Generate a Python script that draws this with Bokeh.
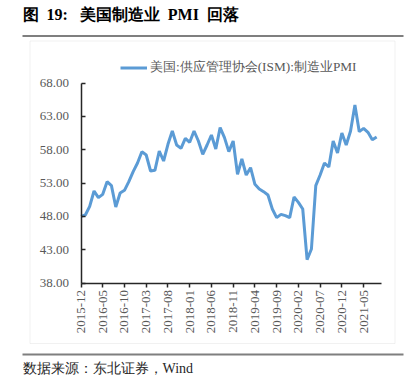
from bokeh.plotting import figure
from bokeh.models import (Range1d, FixedTicker, Label, BoxAnnotation, Legend, LegendItem,
                          ColumnDataSource)
from bokeh.embed import file_html
from bokeh.resources import INLINE
import math

# ---- data ----
months = [
    "2015-12",
    "2016-01", "2016-02", "2016-03", "2016-04", "2016-05", "2016-06",
    "2016-07", "2016-08", "2016-09", "2016-10", "2016-11", "2016-12",
    "2017-01", "2017-02", "2017-03", "2017-04", "2017-05", "2017-06",
    "2017-07", "2017-08", "2017-09", "2017-10", "2017-11", "2017-12",
    "2018-01", "2018-02", "2018-03", "2018-04", "2018-05", "2018-06",
    "2018-07", "2018-08", "2018-09", "2018-10", "2018-11", "2018-12",
    "2019-01", "2019-02", "2019-03", "2019-04", "2019-05", "2019-06",
    "2019-07", "2019-08", "2019-09", "2019-10", "2019-11", "2019-12",
    "2020-01", "2020-02", "2020-03", "2020-04", "2020-05", "2020-06",
    "2020-07", "2020-08", "2020-09", "2020-10", "2020-11", "2020-12",
    "2021-01", "2021-02", "2021-03", "2021-04", "2021-05", "2021-06",
    "2021-07", "2021-08",
]
pmi = [
    48.0,
    48.2, 49.5, 51.8, 50.8, 51.3, 53.2,
    52.6, 49.4, 51.5, 51.9, 53.2, 54.7,
    56.0, 57.7, 57.2, 54.8, 54.9, 57.8,
    56.3, 58.8, 60.8, 58.7, 58.2, 59.7,
    59.1, 60.8, 59.3, 57.3, 58.7, 60.2,
    58.1, 61.3, 59.8, 57.7, 59.3, 54.3,
    56.6, 54.2, 55.3, 52.8, 52.1, 51.7,
    51.2, 49.1, 47.8, 48.3, 48.1, 47.8,
    50.9, 50.1, 49.1, 41.5, 43.1, 52.6,
    54.2, 56.0, 55.4, 59.3, 57.5, 60.5,
    58.7, 60.8, 64.7, 60.7, 61.2, 60.6,
    59.5, 59.9,
]
y_min, y_max = 38, 68
y_ticks = [38, 43, 48, 53, 58, 63, 68]
x_tick_step = 5
x_span = 69

NB = "\u00a0"
title_text = "图" + NB * 2 + "19:" + NB * 3 + "美国制造业" + NB * 2 + "PMI" + NB * 2 + "回落"
legend_text = "美国:供应管理协会(ISM):制造业PMI"
source_text = "数据来源：东北证券，Wind"

# ---- layout geometry (canvas pixels) ----
W, H = 412, 386
X0_PX, X1_PX = 80.5, 380.5      # pixel of x=0 and x=x_span
Y0_PX, Y1_PX = 282.5, 82.5      # pixel (from top) of y_min and y_max
kx = (X1_PX - X0_PX) / x_span
ky = (Y0_PX - Y1_PX) / (y_max - y_min)
x_start = 0 - X0_PX / kx
x_end = x_span + (W - X1_PX) / kx
y_end = y_max + Y1_PX / ky
y_start = y_min - (H - Y0_PX) / ky
TICK_PX = 4

def sy(py):
    return H - py

idx = list(range(len(months)))
src = ColumnDataSource(dict(x=idx, y=pmi))

p = figure(width=W, height=H, output_backend="svg", toolbar_location=None,
           x_range=Range1d(x_start, x_end), y_range=Range1d(y_start, y_end),
           min_border_left=0, min_border_right=0, min_border_top=0, min_border_bottom=0)
p.outline_line_color = None
p.xgrid.visible = False
p.ygrid.visible = False
p.background_fill_color = None
p.border_fill_color = "white"

r = p.line("x", "y", source=src, line_color="#5B9BD5", line_width=3)

serif = "Liberation Serif"
tick_color = "#595959"
axis_color = "#262626"

xt = list(range(0, len(months), x_tick_step))

# y axis (library axis: rule, ticks, labels)
ya = p.yaxis[0]
ya.fixed_location = 0
ya.bounds = (y_min, y_max)
ya.ticker = FixedTicker(ticks=y_ticks)
ya.major_label_overrides = {t: f"{t:.2f}" for t in y_ticks}
ya.major_tick_in = TICK_PX
ya.major_tick_out = 0
ya.minor_tick_in = 0
ya.minor_tick_out = 0
ya.axis_line_color = axis_color
ya.axis_line_width = 1.5
ya.major_tick_line_color = axis_color
ya.major_tick_line_width = 1.5
ya.minor_tick_line_color = None
ya.major_label_text_font = serif
ya.major_label_text_font_size = "13px"
ya.major_label_text_color = tick_color
ya.major_label_standoff = 12

# x axis
xa = p.xaxis[0]
xa.fixed_location = y_min
xa.bounds = (0, x_span)
xa.ticker = FixedTicker(ticks=xt)
xa.major_label_overrides = {i: months[i] for i in xt}
xa.major_label_orientation = math.pi / 2
xa.major_tick_in = 0
xa.major_tick_out = TICK_PX
xa.minor_tick_in = 0
xa.minor_tick_out = 0
xa.axis_line_color = axis_color
xa.axis_line_width = 1.5
xa.major_tick_line_color = axis_color
xa.major_tick_line_width = 1.5
xa.minor_tick_line_color = None
xa.major_label_text_font = serif
xa.major_label_text_font_size = "13px"
xa.major_label_text_color = tick_color
xa.major_label_standoff = 3

# legend
legend = Legend(items=[LegendItem(label=legend_text, renderers=[r])],
                location=(120, sy(76)), orientation="horizontal",
                padding=0, margin=0, spacing=0, glyph_width=27, glyph_height=13,
                label_standoff=3, border_line_color=None, background_fill_alpha=0,
                label_text_font=serif, label_text_font_size="13.3px",
                label_text_color=tick_color, label_height=13)
p.add_layout(legend)

def hbox(l, r_, t, b, **kw):
    return BoxAnnotation(left=l, right=r_, top=sy(t), bottom=sy(b),
                         left_units="screen", right_units="screen",
                         top_units="screen", bottom_units="screen", **kw)

# chart box
p.add_layout(hbox(29.5, 394.5, 40.5, 343, fill_alpha=0, line_color="#d0d0d0", line_width=1))
# title underline
p.add_layout(hbox(22, 403, 34.5, 36.5, fill_color="#7f7f7f", fill_alpha=1, line_alpha=0))
# source line
p.add_layout(hbox(22, 403, 353, 355, fill_color="#7f7f7f", fill_alpha=1, line_alpha=0))

p.add_layout(Label(x=22, y=sy(14), x_units="screen", y_units="screen",
                   text=title_text, text_font=serif, text_font_style="bold",
                   text_font_size="16px", text_color="black", text_baseline="middle"))
p.add_layout(Label(x=22, y=sy(368), x_units="screen", y_units="screen",
                   text=source_text, text_font=serif,
                   text_font_size="14px", text_color="#262626", text_baseline="middle"))

open("out.html", "w").write(file_html(p, INLINE))
